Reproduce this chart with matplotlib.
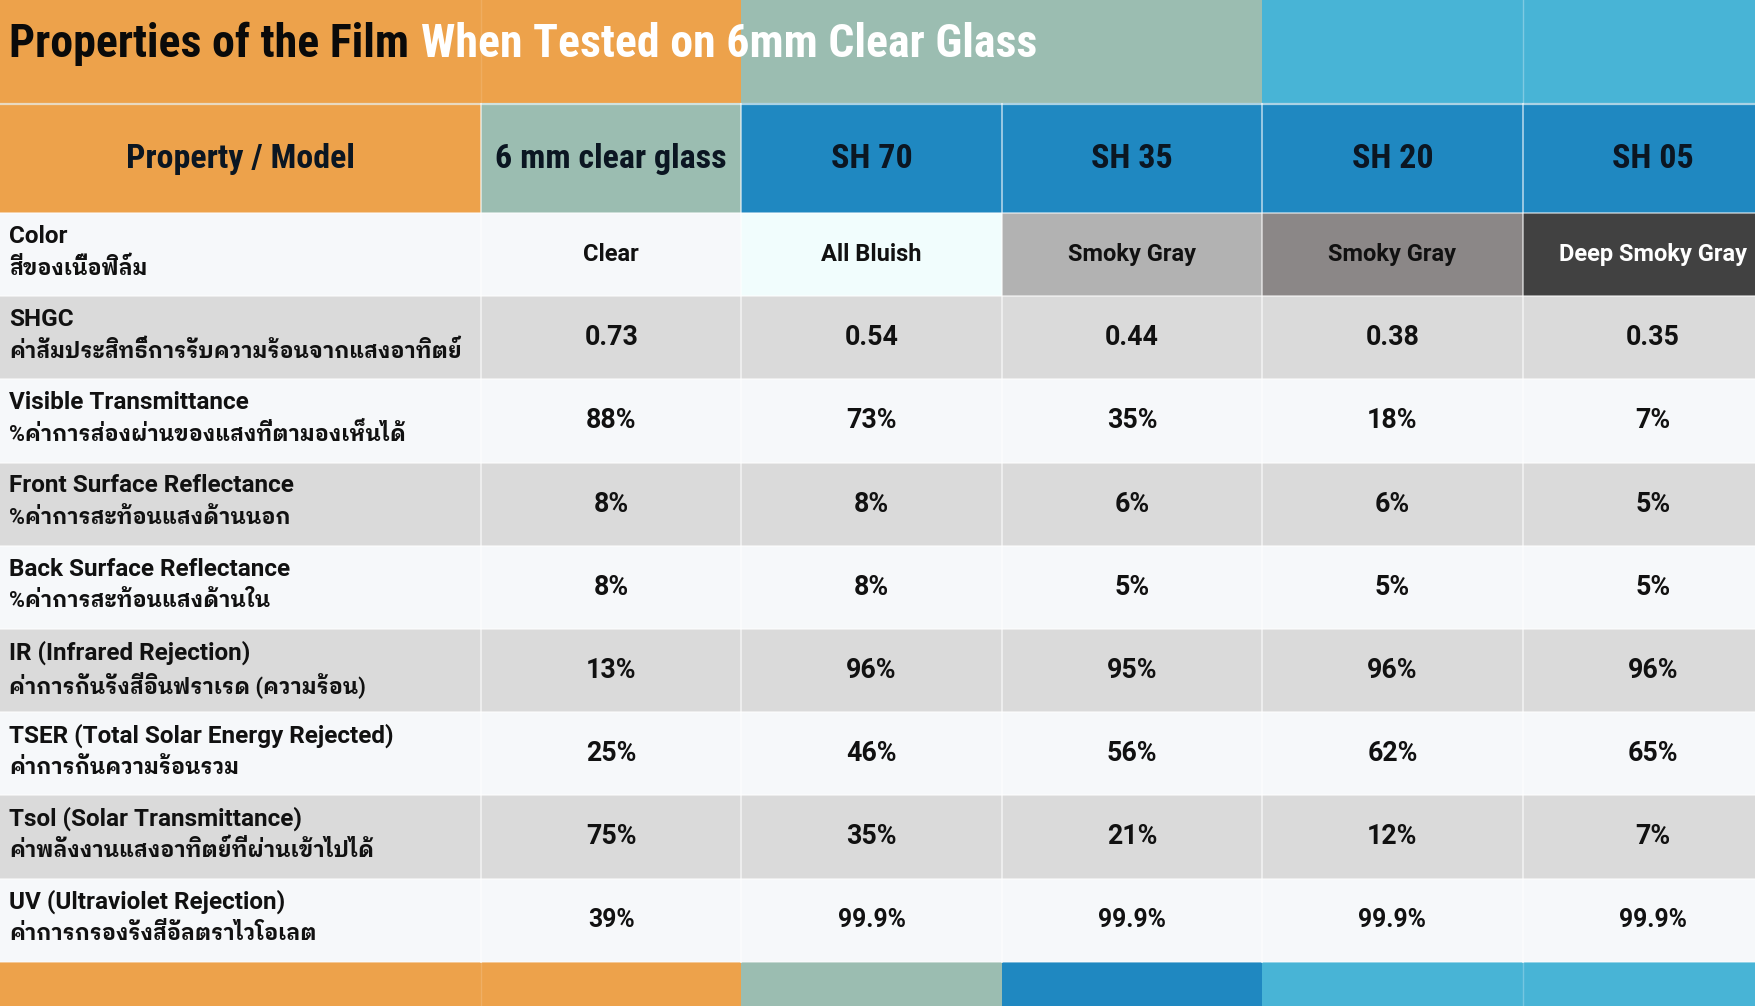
import matplotlib
matplotlib.use("Agg")
import matplotlib.pyplot as plt
from matplotlib.patches import Rectangle

# ---------------- data ----------------
title_dark = "Properties of the Film"
title_light = "When Tested on 6mm Clear Glass"
header_first = "Property / Model"
models = ["6 mm clear glass", "SH 70", "SH 35", "SH 20", "SH 05"]

props_en = ["Color", "SHGC", "Visible Transmittance", "Front Surface Reflectance",
            "Back Surface Reflectance", "IR (Infrared Rejection)",
            "TSER (Total Solar Energy Rejected)", "Tsol (Solar Transmittance)",
            "UV (Ultraviolet Rejection)"]
props_th = ["สีของเนื้อฟิล์ม",
            "ค่าสัมประสิทธิ์การรับความร้อนจากแสงอาทิตย์",
            "%ค่าการส่องผ่านของแสงที่ตามองเห็นได้",
            "%ค่าการสะท้อนแสงด้านนอก",
            "%ค่าการสะท้อนแสงด้านใน",
            "ค่าการกันรังสีอินฟราเรด (ความร้อน)",
            "ค่าการกันความร้อนรวม",
            "ค่าพลังงานแสงอาทิตย์ที่ผ่านเข้าไปได้",
            "ค่าการกรองรังสีอัลตราไวโอเลต"]

color_names = ["Clear", "All Bluish", "Smoky Gray", "Smoky Gray", "Deep Smoky Gray"]
shgc = [0.73, 0.54, 0.44, 0.38, 0.35]
visible_trans = [88, 73, 35, 18, 7]
front_refl = [8, 8, 6, 6, 5]
back_refl = [8, 8, 5, 5, 5]
ir_rej = [13, 96, 95, 96, 96]
tser = [25, 46, 56, 62, 65]
tsol = [75, 35, 21, 12, 7]
uv_rej = [39, 99.9, 99.9, 99.9, 99.9]

# ---------------- style ----------------
ORANGE = "#EDA24B"
SAGE = "#9BBDB1"
BLUE = "#1F88C1"
LIGHTBLUE = "#48B4D6"
ROW_LIGHT = "#F6F8FA"
ROW_GRAY = "#DADADA"
TXT = "#111111"
HEAD_TXT = "#0B1622"
color_cell_bg = ["#F6F8FA", "#F1FDFD", "#B2B2B2", "#8B8787", "#414141"]
color_cell_fg = [TXT, TXT, TXT, TXT, "#FFFFFF"]

COND = ["Roboto Condensed"]
LABEL = ["Roboto", "IBM Plex Sans Thai Looped", "DejaVu Sans"]

W, H = 1755, 1006
fig = plt.figure(figsize=(W / 100, H / 100), dpi=100)
ax = fig.add_axes([0, 0, 1, 1])
ax.set_xlim(0, W)
ax.set_ylim(H, 0)
ax.axis("off")

# layout
label_w = 481
col_w = 260.4
col_x = [label_w + i * col_w for i in range(len(models))]
title_h = 103
head_top, head_bot = 104, 213
row_h = 83.2
rows_top = head_bot
n_rows = len(props_en)
rows_bot = rows_top + n_rows * row_h
bottom_bot = H


def rect(x, y, w, h, c, z=1):
    ax.add_patch(Rectangle((x, y), w, h, facecolor=c, edgecolor="none", zorder=z))


# title band
rect(0, 0, col_x[1] + 0.5, title_h, ORANGE)
rect(col_x[1], 0, col_x[3] - col_x[1], title_h, SAGE)
rect(col_x[3], 0, W - col_x[3], title_h, LIGHTBLUE)
# bottom band
rect(0, rows_bot, col_x[1], bottom_bot - rows_bot, ORANGE)
rect(col_x[1], rows_bot, col_w, bottom_bot - rows_bot, SAGE)
rect(col_x[2], rows_bot, col_w, bottom_bot - rows_bot, BLUE)
rect(col_x[3], rows_bot, W - col_x[3], bottom_bot - rows_bot, LIGHTBLUE)

# faint band separators
ax.plot([label_w, label_w], [0, title_h], color="white", alpha=0.12, lw=1, zorder=2)
ax.plot([label_w, label_w], [rows_bot, bottom_bot], color="white", alpha=0.15, lw=1, zorder=2)
ax.plot([col_x[4], col_x[4]], [0, title_h], color="white", alpha=0.3, lw=1, zorder=2)
ax.plot([col_x[4], col_x[4]], [rows_bot, bottom_bot], color="white", alpha=0.25, lw=1, zorder=2)

# header row
rect(0, head_top - 1, label_w, head_bot - head_top + 1, ORANGE)
rect(col_x[0], head_top - 1, col_w, head_bot - head_top + 1, SAGE)
for i in range(1, len(models)):
    rect(col_x[i], head_top - 1, col_w, head_bot - head_top + 1, BLUE)
ax.plot([0, W], [title_h + 0.5, title_h + 0.5], color="#E8F2F4", alpha=0.7, lw=1.6, zorder=3)

ax.text(label_w / 2, (head_top + head_bot) / 2, header_first, ha="center", va="center",
        family=COND, weight="bold", fontsize=24.5, color=HEAD_TXT, zorder=5)
for i, m in enumerate(models):
    ax.text(col_x[i] + col_w / 2, (head_top + head_bot) / 2, m, ha="center", va="center",
            family=COND, weight="bold", fontsize=24.5, color=HEAD_TXT, zorder=5)

# data rows
pct = lambda v: (f"{v:g}%")
values = [color_names,
          [f"{v:.2f}" for v in shgc],
          [pct(v) for v in visible_trans],
          [pct(v) for v in front_refl],
          [pct(v) for v in back_refl],
          [pct(v) for v in ir_rej],
          [pct(v) for v in tser],
          [pct(v) for v in tsol],
          [pct(v) for v in uv_rej]]

for r in range(n_rows):
    y0 = rows_top + r * row_h
    bg = ROW_LIGHT if r % 2 == 0 else ROW_GRAY
    rect(0, y0, W, row_h, bg)
    ax.text(9, y0 + row_h * 0.28, props_en[r], ha="left", va="center",
            family=LABEL, weight="bold", fontsize=17.5, color=TXT, zorder=5)
    ax.text(9, y0 + row_h * 0.665, props_th[r], ha="left", va="center",
            family=LABEL, weight="bold", fontsize=15.6, color=TXT, zorder=5)
    for i in range(len(models)):
        cx = col_x[i] + col_w / 2
        if r == 0:
            rect(col_x[i], y0, col_w, row_h, color_cell_bg[i], z=2)
            ax.text(cx, y0 + row_h / 2, values[r][i], ha="center", va="center",
                    family=LABEL, weight="bold", fontsize=17, color=color_cell_fg[i], zorder=5)
        else:
            fs = 17.8 if r == n_rows - 1 else 19.3
            ax.text(cx, y0 + row_h / 2, values[r][i], ha="center", va="center",
                    family=LABEL, weight="bold", fontsize=fs, color=TXT, zorder=5)
    # horizontal separator
    ax.plot([0, W], [y0, y0], color="white", alpha=0.6, lw=1.2, zorder=3)

# vertical separators in header + body
for xb in col_x:
    ax.plot([xb, xb], [head_top, rows_bot], color="white", alpha=0.55, lw=1.4, zorder=3)
ax.plot([0, W], [rows_bot, rows_bot], color="white", alpha=0.5, lw=1.2, zorder=3)

# title
t1 = ax.text(9, 57, title_dark, ha="left", va="baseline", family=COND, weight="bold",
             fontsize=33, color="#0A0A0A", zorder=6)
fig.canvas.draw()
bb = t1.get_window_extent(fig.canvas.get_renderer())
inv = ax.transData.inverted()
x_end = inv.transform((bb.x1, bb.y0))[0]
ax.text(x_end + 12, 57, title_light, ha="left", va="baseline", family=COND, weight="bold",
        fontsize=33, color="#FFFFFF", zorder=6)

fig.savefig("out.png", dpi=100)
